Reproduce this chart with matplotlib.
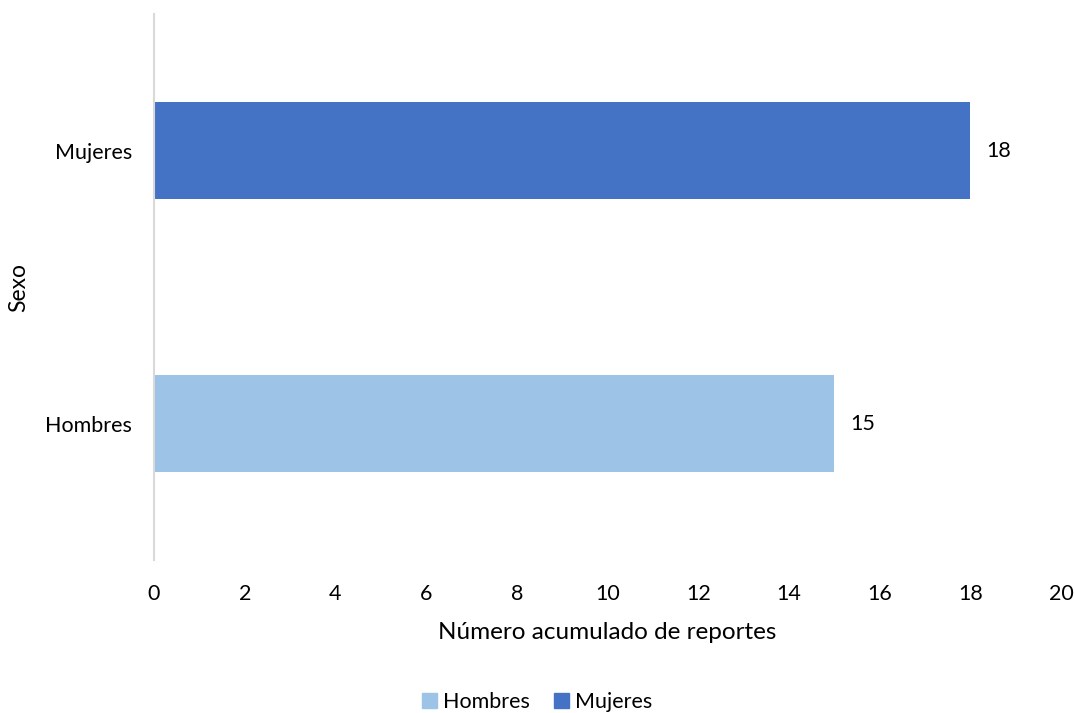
import matplotlib
matplotlib.use("Agg")
import matplotlib.pyplot as plt
from matplotlib.patches import Patch

categorias = ["Hombres", "Mujeres"]
reportes = [15, 18]
colores = ["#9DC3E6", "#4472C4"]
xticks = [0, 2, 4, 6, 8, 10, 12, 14, 16, 18, 20]

plt.rcParams['font.family'] = ['Lato', 'DejaVu Sans']

fig = plt.figure(figsize=(10.74, 7.13), dpi=100)
ax = fig.add_axes([0.1434, 0.2146, 0.8446, 0.7655])

y = range(len(categorias))
ax.barh(y, reportes, height=0.355, color=colores)
for i, v in zip(y, reportes):
    ax.text(v + 0.35, i, str(v), va='center', ha='left', fontsize=15.5, color='black')

ax.set_xlim(0, 20)
ax.set_ylim(-0.5, 1.5)
ax.set_xticks(xticks)
ax.set_yticks(list(y))
ax.set_yticklabels(categorias)
ax.tick_params(length=0, labelsize=15.5)
ax.tick_params(axis='y', pad=16)
ax.tick_params(axis='x', pad=17)
for s in ['top', 'right', 'bottom']:
    ax.spines[s].set_visible(False)
ax.spines['left'].set_color('#D9D9D9')
ax.spines['left'].set_linewidth(1.5)

ax.set_xlabel("Número acumulado de reportes", fontsize=17.5, labelpad=13)
ax.set_ylabel("Sexo", fontsize=16.5, labelpad=11)

handles = [Patch(color=c, label=l) for c, l in zip(colores, categorias)]
fig.legend(handles=handles, loc='center', bbox_to_anchor=(0.5, 0.016), ncol=2,
           frameon=False, fontsize=15.5, handlelength=0.7, handleheight=0.7,
           handletextpad=0.3, columnspacing=1.1)

fig.savefig("out.png", dpi=100)
